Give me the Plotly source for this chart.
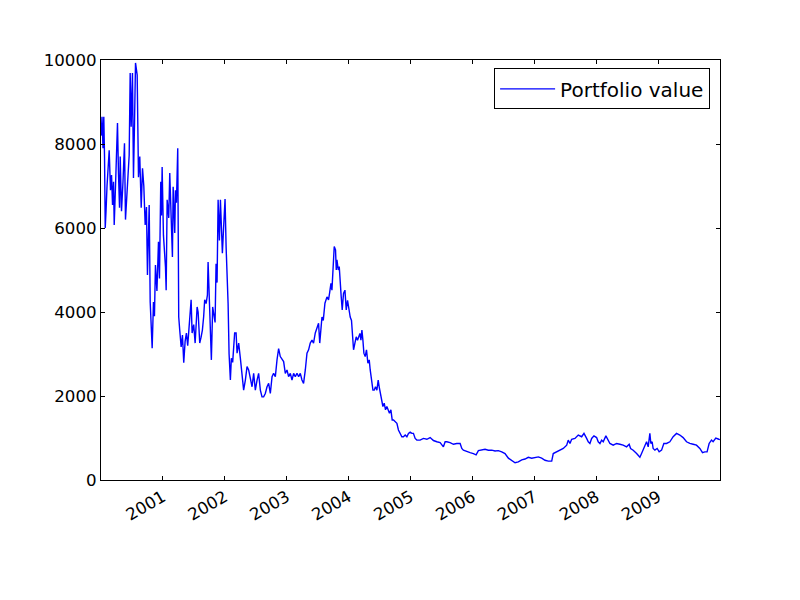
import pandas as pd
import plotly.graph_objects as go

# decimal years (time of each reading) and portfolio values
years = [
2000.006,2000.019,2000.035,2000.048,2000.060,2000.071,2000.084,2000.100,2000.135,2000.156,
2000.173,2000.189,2000.205,2000.216,2000.237,2000.269,2000.285,2000.302,2000.313,2000.334,
2000.358,2000.382,2000.398,2000.431,2000.458,2000.474,2000.490,2000.511,2000.527,2000.544,
2000.560,2000.587,2000.608,2000.629,2000.652,2000.673,2000.694,2000.716,2000.737,2000.753,
2000.781,2000.797,2000.813,2000.829,2000.850,2000.866,2000.882,2000.906,2000.931,2000.947,
2000.968,2000.979,2000.990,2001.011,2001.044,2001.055,2001.071,2001.097,2001.113,2001.140,
2001.156,2001.168,2001.194,2001.205,2001.221,2001.242,2001.258,2001.274,2001.297,2001.318,
2001.339,2001.361,2001.382,2001.403,2001.435,2001.458,2001.474,2001.500,2001.523,2001.555,
2001.571,2001.597,2001.619,2001.640,2001.661,2001.677,2001.700,2001.721,2001.732,2001.753,
2001.769,2001.785,2001.806,2001.823,2001.845,2001.861,2001.877,2001.894,2001.915,2001.931,
2001.947,2001.963,2001.984,2002.006,2002.023,2002.039,2002.055,2002.071,2002.092,2002.108,
2002.129,2002.161,2002.184,2002.200,2002.226,2002.253,2002.281,2002.306,2002.334,2002.361,
2002.387,2002.415,2002.442,2002.468,2002.495,2002.523,2002.548,2002.576,2002.603,2002.629,
2002.656,2002.684,2002.710,2002.737,2002.765,2002.790,2002.818,2002.845,2002.871,2002.898,
2002.926,2002.952,2002.979,2003.006,2003.032,2003.060,2003.087,2003.113,2003.140,2003.168,
2003.194,2003.221,2003.248,2003.274,2003.302,2003.329,2003.355,2003.382,2003.410,2003.435,
2003.463,2003.490,2003.516,2003.535,2003.552,2003.571,2003.592,2003.619,2003.652,2003.677,
2003.694,2003.716,2003.732,2003.748,2003.769,2003.790,2003.802,2003.813,2003.834,2003.850,
2003.866,2003.882,2003.898,2003.919,2003.942,2003.963,2003.984,2004.006,2004.027,2004.048,
2004.065,2004.081,2004.103,2004.124,2004.145,2004.161,2004.184,2004.200,2004.216,2004.232,
2004.248,2004.269,2004.290,2004.313,2004.334,2004.350,2004.377,2004.394,2004.415,2004.435,
2004.458,2004.479,2004.495,2004.516,2004.539,2004.555,2004.576,2004.597,2004.619,2004.640,
2004.661,2004.684,2004.705,2004.726,2004.753,2004.781,2004.806,2004.834,2004.861,2004.887,
2004.915,2004.942,2004.968,2004.995,2005.023,2005.048,2005.076,2005.103,2005.129,2005.156,
2005.210,2005.265,2005.318,2005.371,2005.426,2005.479,2005.532,2005.560,2005.587,2005.640,
2005.694,2005.748,2005.802,2005.829,2005.855,2005.910,2005.963,2006.016,2006.060,2006.097,
2006.152,2006.205,2006.258,2006.313,2006.366,2006.419,2006.474,2006.527,2006.581,2006.635,
2006.689,2006.742,2006.797,2006.850,2006.903,2006.958,2007.011,2007.065,2007.119,2007.173,
2007.226,2007.281,2007.306,2007.361,2007.415,2007.468,2007.523,2007.548,2007.576,2007.603,
2007.656,2007.710,2007.765,2007.802,2007.845,2007.871,2007.898,2007.926,2007.963,2008.006,
2008.032,2008.060,2008.087,2008.113,2008.156,2008.194,2008.221,2008.274,2008.329,2008.382,
2008.435,2008.490,2008.532,2008.555,2008.597,2008.652,2008.705,2008.732,2008.758,2008.785,
2008.813,2008.839,2008.866,2008.882,2008.903,2008.919,2008.947,2008.984,2009.016,2009.055,
2009.092,2009.135,2009.189,2009.242,2009.297,2009.350,2009.403,2009.458,2009.511,2009.565,
2009.619,2009.673,2009.716,2009.753,2009.790,2009.823,2009.861,2009.887,2009.931,2009.979,
2009.997,
]

portfolio_value = [
8200,8650,7900,8650,7660,6000,6400,7000,7850,6900,
7260,6550,7100,6070,7000,8500,7300,6480,7700,6400,
7100,8020,6200,7100,7740,9690,8410,9690,7190,8500,
9930,9640,7210,7700,6480,7420,7000,6070,6500,4880,
6550,4240,3380,3140,4240,3900,5120,4500,5670,4800,
7100,6300,7450,5830,5070,4520,6670,6240,7310,6240,
5310,6980,5880,6900,6600,7900,3880,3570,3170,3450,
2790,3300,3500,3200,3880,4290,3500,3700,3260,4120,
4000,3260,3400,3570,3900,4290,4200,4400,5190,4400,
3570,2860,4120,3900,3750,5150,4700,6670,5700,6670,
6050,5400,6050,6690,5550,5000,4210,3000,2380,2900,
2800,3500,3500,3020,3260,2900,2540,2140,2380,2700,
2620,2380,2220,2540,2140,2380,2540,2140,1980,1980,
2060,2220,2300,2060,2460,2540,2460,2860,3130,2940,
2860,2820,2540,2620,2460,2540,2380,2540,2460,2540,
2460,2540,2380,2300,2620,3020,3100,3260,3330,3260,
3500,3650,3730,3260,3600,3880,3800,4210,4360,4290,
4450,4680,4520,5000,5560,5480,5000,5240,5000,5080,
4520,4360,4050,4440,4520,4050,4280,4050,3880,3800,
3410,3100,3260,3410,3330,3410,3490,3330,3570,3330,
3020,2940,3100,2780,2860,2620,2300,2140,2140,2220,
2140,2380,2220,2060,1830,1750,1830,1670,1750,1670,
1590,1670,1430,1430,1390,1350,1190,1110,1030,1030,
1070,1030,1110,1140,1110,1110,990,950,950,950,
990,970,1010,940,910,890,790,910,910,890,
850,870,870,750,710,670,650,630,600,700,
710,730,710,710,690,700,670,630,520,460,
410,430,480,500,540,520,530,550,520,470,
450,450,630,670,710,750,830,950,870,970,
990,1070,1030,1110,990,910,870,990,1050,1010,
910,870,950,910,1050,950,870,830,870,850,
830,790,850,750,710,630,540,630,710,790,
910,790,1110,870,910,750,710,750,670,710,
870,870,910,1030,1110,1070,1010,910,870,850,
830,750,650,670,670,870,950,910,1000,970,
960,
]

series_name = "Portfolio value"
y_ticks = [0, 2000, 4000, 6000, 8000, 10000]

start = pd.Timestamp("2000-01-01")
dates = [start + pd.to_timedelta((y - 2000.0) * 365.25, unit="D") for y in years]

fig = go.Figure()
fig.add_trace(go.Scatter(
    x=dates, y=portfolio_value, mode="lines", name=series_name,
    line=dict(color="#0000ff", width=1.4),
))

axis_common = dict(
    showline=True, linecolor="black", linewidth=1, mirror="ticks",
    ticks="inside", ticklen=4, tickwidth=1, tickcolor="black",
    showgrid=False, zeroline=False,
    tickfont=dict(family="DejaVu Sans", size=16.67, color="black"),
)

fig.update_layout(
    width=800, height=600,
    margin=dict(l=101, r=80, t=60, b=120),
    paper_bgcolor="white", plot_bgcolor="white",
    font=dict(family="DejaVu Sans", size=16.67, color="black"),
    showlegend=True,
    legend=dict(
        x=0.984, y=0.98, xanchor="right", yanchor="top",
        bordercolor="black", borderwidth=1, bgcolor="white",
        itemwidth=55,
        font=dict(family="DejaVu Sans", size=20, color="black"),
    ),
    xaxis=dict(
        range=[pd.Timestamp("2000-01-02"), pd.Timestamp("2009-12-31")],
        type="date", tickformat="%Y", dtick="M12", tick0="2001-01-01",
        tickangle=-30, **axis_common,
    ),
    yaxis=dict(
        range=[0, 10000], tickvals=y_ticks, ticktext=[str(v) for v in y_ticks],
        **axis_common,
    ),
)

fig.write_html("out.html")
